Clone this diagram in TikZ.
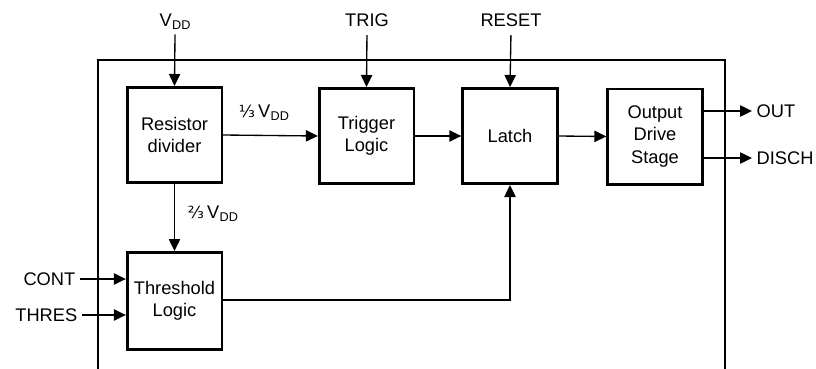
\documentclass[tikz,border=0pt]{standalone}
\usepackage{fontspec}
\setmainfont{Liberation Sans}
\newfontfamily\fracfont{DejaVu Sans}
\usetikzlibrary{arrows.meta}
\newcommand{\myvdd}{V\kern0.02em\raisebox{-0.3ex}{\fontsize{9.5}{10}\selectfont DD}}
\begin{document}
\begin{tikzpicture}[x=0.75pt,y=-0.75pt,
  every node/.style={font=\fontsize{13.7}{16.8}\selectfont},
  blk/.style={draw, line width=2pt, align=center, minimum width=71pt, minimum height=71.5pt, inner sep=2pt},
  arr/.style={line width=1pt, -{Triangle[length=9pt,width=8.5pt]}},
  frame/.style={line width=2pt}]
\useasboundingbox (0,0) rectangle (816,368);
% outer frame
\draw[frame] (98,369) -- (98,60) -- (725,60) -- (725,369);
% blocks
\node[blk] (rd) at (174.5,135) {Resistor\\divider};
\node[blk] (tl) at (366.5,136) {Trigger\\Logic};
\node[blk] (la) at (510,136) {Latch};
\node[blk] (od) at (655,136.5) {Output\\Drive\\Stage};
\node[blk, minimum height=73pt] (th) at (174.5,301) {Threshold\\Logic};
% external labels
\node (vdd) at (175,22) {\myvdd};
\node (trig) at (367,20) {TRIG};
\node (reset) at (511,20) {RESET};
\node[anchor=west] (out) at (752,111) {OUT};
\node[anchor=west] (disch) at (752,158) {DISCH};
\node[anchor=east] (cont) at (80,279) {CONT};
\node[anchor=east] (thres) at (82,315) {THRES};
% internal labels
\node (third) at (264,113) {{\fracfont\fontsize{12.5}{14}\selectfont ⅓}\,\myvdd};
\node (twothird) at (213,214) {{\fracfont\fontsize{12.5}{14}\selectfont ⅔}\,\myvdd};
% connectors
\draw[arr] (vdd.south) -- (rd.north);
\draw[arr, shorten <=3pt] (trig.south) -- (tl.north);
\draw[arr, shorten <=3pt] (reset.south) -- (la.north);
\draw[arr] (rd.east) -- (tl.west);
\draw[arr] (tl.east) -- (la.west);
\draw[arr] (la.east) -- (od.west);
\draw[arr] (rd.south) -- (th.north);
\draw[arr] (od.east |- out) -- (out.west);
\draw[arr] (od.east |- disch) -- (disch.west);
\draw[arr] (cont.east) -- (th.west |- cont);
\draw[arr] (thres.east) -- (th.west |- thres);
\draw[arr] (th.east |- 0,300) -| (la.south);
\end{tikzpicture}
\end{document}
